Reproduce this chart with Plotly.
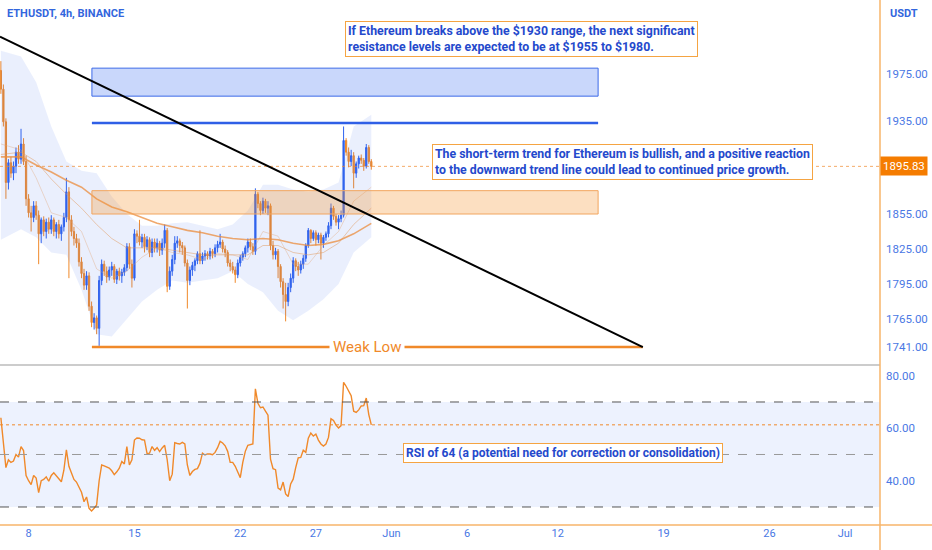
import pandas as pd
import plotly.graph_objects as go
from plotly.subplots import make_subplots

# ---- 4h candles, ETHUSDT ----
start = "2023-05-06 04:00"

opens = [1978, 1962, 1934, 1882, 1899, 1890, 1896, 1908, 1902, 1915,
         1900, 1868, 1856, 1852, 1862, 1854, 1838, 1850, 1840, 1848,
         1842, 1850, 1840, 1846, 1838, 1844, 1852, 1874, 1850, 1840,
         1834, 1830, 1814, 1804, 1794, 1802, 1776, 1762, 1766, 1757,
         1798, 1812, 1806, 1801, 1807, 1810, 1799, 1806, 1802, 1805,
         1809, 1827, 1812, 1800, 1838, 1836, 1831, 1835, 1827, 1833,
         1822, 1831, 1826, 1830, 1824, 1830, 1841, 1793, 1806, 1816,
         1830, 1832, 1828, 1826, 1813, 1798, 1807, 1811, 1815, 1821,
         1815, 1819, 1821, 1819, 1823, 1821, 1826, 1829, 1831, 1825,
         1822, 1813, 1810, 1807, 1803, 1813, 1818, 1821, 1826, 1831,
         1827, 1823, 1872, 1864, 1858, 1866, 1860, 1862, 1828, 1820,
         1823, 1810, 1797, 1786, 1780, 1792, 1800, 1815, 1810, 1807,
         1812, 1817, 1828, 1841, 1834, 1839, 1833, 1837, 1830, 1835,
         1838, 1845, 1860, 1853, 1848, 1851, 1854, 1918, 1908, 1900,
         1905, 1890, 1898, 1903, 1901, 1896, 1912, 1900]

highs = [1986, 1966, 1937, 1902, 1904, 1900, 1912, 1914, 1928, 1920,
         1905, 1872, 1862, 1866, 1866, 1858, 1852, 1853, 1851, 1852,
         1854, 1852, 1848, 1850, 1846, 1856, 1886, 1878, 1854, 1844,
         1838, 1834, 1818, 1808, 1806, 1805, 1780, 1770, 1768, 1802,
         1816, 1815, 1810, 1810, 1814, 1812, 1808, 1809, 1808, 1812,
         1830, 1830, 1816, 1842, 1841, 1850, 1838, 1838, 1836, 1835,
         1834, 1834, 1834, 1832, 1834, 1846, 1843, 1810, 1820, 1836,
         1836, 1834, 1831, 1828, 1816, 1810, 1814, 1817, 1823, 1841,
         1822, 1824, 1823, 1826, 1825, 1829, 1832, 1838, 1833, 1828,
         1824, 1816, 1814, 1810, 1816, 1820, 1823, 1828, 1834, 1834,
         1830, 1877, 1874, 1866, 1869, 1868, 1866, 1864, 1832, 1826,
         1825, 1812, 1800, 1796, 1796, 1804, 1818, 1817, 1814, 1815,
         1820, 1830, 1843, 1842, 1841, 1841, 1839, 1839, 1837, 1840,
         1848, 1864, 1862, 1855, 1854, 1858, 1930, 1920, 1912, 1910,
         1908, 1900, 1905, 1906, 1903, 1915, 1914, 1902]

lows = [1958, 1930, 1868, 1876, 1886, 1884, 1890, 1898, 1898, 1897,
        1862, 1852, 1840, 1848, 1850, 1812, 1830, 1836, 1834, 1838,
        1838, 1836, 1834, 1834, 1832, 1840, 1848, 1800, 1836, 1828,
        1826, 1810, 1800, 1790, 1790, 1772, 1758, 1756, 1752, 1742,
        1794, 1802, 1796, 1798, 1802, 1796, 1795, 1798, 1796, 1802,
        1806, 1808, 1792, 1798, 1830, 1828, 1826, 1822, 1824, 1818,
        1818, 1822, 1822, 1819, 1820, 1826, 1788, 1790, 1802, 1812,
        1826, 1822, 1820, 1810, 1774, 1794, 1802, 1806, 1812, 1812,
        1812, 1815, 1816, 1816, 1817, 1818, 1822, 1826, 1822, 1818,
        1810, 1806, 1804, 1796, 1800, 1810, 1815, 1818, 1822, 1824,
        1820, 1820, 1860, 1854, 1855, 1856, 1854, 1824, 1816, 1816,
        1800, 1792, 1774, 1763, 1776, 1788, 1796, 1806, 1802, 1804,
        1808, 1814, 1826, 1830, 1832, 1828, 1830, 1816, 1826, 1832,
        1835, 1842, 1850, 1845, 1842, 1848, 1852, 1905, 1895, 1896,
        1877, 1886, 1894, 1898, 1892, 1894, 1898, 1893]

closes = [1962, 1934, 1882, 1899, 1890, 1896, 1908, 1902, 1915, 1900,
          1868, 1856, 1852, 1862, 1854, 1838, 1850, 1840, 1848, 1842,
          1850, 1840, 1846, 1838, 1844, 1852, 1874, 1850, 1840, 1834,
          1830, 1814, 1804, 1794, 1802, 1776, 1762, 1766, 1757, 1798,
          1812, 1806, 1801, 1807, 1810, 1799, 1806, 1802, 1805, 1809,
          1827, 1812, 1800, 1838, 1836, 1831, 1835, 1827, 1833, 1822,
          1831, 1826, 1830, 1824, 1830, 1841, 1793, 1806, 1816, 1830,
          1832, 1828, 1826, 1813, 1798, 1807, 1811, 1815, 1821, 1815,
          1819, 1821, 1819, 1823, 1821, 1826, 1829, 1831, 1825, 1822,
          1813, 1810, 1807, 1803, 1813, 1818, 1821, 1826, 1831, 1827,
          1823, 1872, 1864, 1858, 1866, 1860, 1862, 1828, 1820, 1823,
          1810, 1797, 1786, 1780, 1792, 1800, 1815, 1810, 1807, 1812,
          1817, 1828, 1841, 1834, 1839, 1833, 1837, 1830, 1835, 1838,
          1845, 1860, 1853, 1848, 1851, 1854, 1918, 1908, 1900, 1905,
          1890, 1898, 1903, 1901, 1896, 1912, 1900, 1895.83]

rsi = [64, 53, 45, 48, 47, 47.5, 50, 49, 53, 51.5,
       42, 40, 38.5, 42, 41, 35.5, 40, 40.5, 41.5, 39.8,
       42, 43, 42, 41, 39.6, 44, 51.8, 45.5, 43, 40.5,
       39.5, 37.5, 35.6, 32, 33.8, 29.5, 28.5, 29.5, 30.8, 40,
       46, 45.7, 45.3, 44.8, 43.8, 42.3, 43.4, 44.8, 47.3, 46.4,
       53, 46, 48, 55.5, 56.3, 56.2, 55.6, 55.5, 50.4, 50.5,
       53, 51.6, 52.6, 51.1, 52.5, 53.5, 48, 40, 42.5, 54.5,
       54.2, 54, 54.6, 54, 46, 42, 43.5, 44.3, 44.6, 46.6,
       50.5, 49.8, 50.2, 50.2, 49.9, 50.8, 52.6, 55, 54.4, 53.3,
       51.2, 47, 47, 45.5, 43.3, 41.2, 47, 51.2, 53.5, 53.7,
       54, 75, 69.5, 67.8, 68.1, 66.5, 65, 48.2, 44.6, 44.2,
       37.2, 36.5, 39.5, 35, 34, 38.8, 40.6, 45, 48.7, 48.9,
       51.6, 50.8, 56.2, 58.2, 57, 57.8, 55.5, 54, 53.2, 54,
       56.5, 63.6, 63, 61.2, 60.1, 61, 77.5, 76, 74.2, 72.4,
       66.5, 66, 67, 68.5, 68.6, 71.5, 65.2, 61.3]

times = pd.date_range(start, periods=len(closes), freq="4h")

# ---- moving averages and band (sampled) ----
ma_times = ["2023-05-06 04:00"] + [f"2023-05-{d:02d} 12:00" for d in range(7, 30)] + ["2023-05-30 16:00"]
ma_slow = [1904, 1904, 1897, 1891, 1884, 1878, 1868, 1861, 1857, 1852, 1847, 1844, 1841,
           1839, 1836, 1834, 1833, 1834, 1833, 1830, 1828, 1829, 1832, 1838, 1847]
ma_mid = [1906, 1908, 1900, 1885, 1872, 1860, 1846, 1834, 1826, 1826, 1826, 1824, 1822,
          1820, 1820, 1820, 1820, 1828, 1828, 1822, 1820, 1822, 1830, 1846, 1860]
ma_fast = [1915, 1910, 1886, 1856, 1852, 1840, 1808, 1800, 1806, 1818, 1826, 1822, 1820,
           1816, 1821, 1820, 1816, 1840, 1836, 1812, 1812, 1828, 1840, 1866, 1878]
band_upper = [1995, 1990, 1968, 1930, 1900, 1892, 1890, 1870, 1855, 1845, 1845, 1847, 1848,
              1845, 1842, 1846, 1858, 1880, 1880, 1876, 1874, 1876, 1882, 1930, 1940]
band_lower = [1833, 1842, 1835, 1822, 1820, 1790, 1752, 1750, 1765, 1780, 1790, 1798, 1796,
              1798, 1800, 1806, 1795, 1788, 1772, 1764, 1772, 1782, 1795, 1822, 1835]

# ---- drawn levels ----
resist_box = (1956, 1980)
resist_line = 1933
support_box = (1855, 1875)
weak_low = 1741
trend_start = ("2023-05-06 02:30", 2007)
trend_end = ("2023-06-17 15:00", 1741)
zone_x = ("2023-05-12 04:30", "2023-06-14 16:00")
weak_low_end = "2023-06-17 15:00"

price_ticks = [1975, 1935, 1855, 1825, 1795, 1765, 1741]
rsi_ticks = [80, 60, 40]
date_ticks = ["2023-05-08", "2023-05-15", "2023-05-22", "2023-05-27", "2023-06-01",
              "2023-06-06", "2023-06-12", "2023-06-19", "2023-06-26", "2023-07-01"]
date_labels = ["8", "15", "22", "27", "Jun", "6", "12", "19", "26", "Jul"]

BLUE = "#2f62ee"
ORANGE = "#f0892a"
TXT = "#2449cc"
TICK = "#4a78e4"
XR = 880 / 932

fig = make_subplots(rows=2, cols=1, shared_xaxes=True, vertical_spacing=0)

# band
fig.add_trace(go.Scatter(x=ma_times, y=band_lower, mode="lines", line=dict(width=0),
                         hoverinfo="skip", showlegend=False), row=1, col=1)
fig.add_trace(go.Scatter(x=ma_times, y=band_upper, mode="lines", line=dict(width=0),
                         fill="tonexty", fillcolor="rgba(60,110,240,0.11)",
                         hoverinfo="skip", showlegend=False), row=1, col=1)

# moving averages
fig.add_trace(go.Scatter(x=ma_times, y=ma_slow, mode="lines",
                         line=dict(color="rgba(235,140,60,0.75)", width=1.6),
                         showlegend=False), row=1, col=1)
fig.add_trace(go.Scatter(x=ma_times, y=ma_mid, mode="lines",
                         line=dict(color="rgba(225,150,90,0.55)", width=0.9),
                         showlegend=False), row=1, col=1)
fig.add_trace(go.Scatter(x=ma_times, y=ma_fast, mode="lines",
                         line=dict(color="rgba(225,160,110,0.45)", width=0.8),
                         showlegend=False), row=1, col=1)

fig.add_trace(go.Candlestick(
    x=times, open=opens, high=highs, low=lows, close=closes,
    increasing=dict(line=dict(color=BLUE, width=1), fillcolor=BLUE),
    decreasing=dict(line=dict(color=ORANGE, width=1), fillcolor=ORANGE),
    whiskerwidth=0, showlegend=False), row=1, col=1)

fig.add_trace(go.Scatter(x=times, y=rsi, mode="lines",
                         line=dict(color=ORANGE, width=1.4), showlegend=False), row=2, col=1)

shapes = [
    # RSI zone and levels
    dict(type="rect", xref="paper", yref="y2", x0=0, x1=XR, y0=30, y1=70,
         fillcolor="rgba(60,110,240,0.09)", line=dict(width=0), layer="below"),
    dict(type="line", xref="paper", yref="y2", x0=0, x1=XR, y0=70, y1=70,
         line=dict(color="#555", width=1, dash="dash")),
    dict(type="line", xref="paper", yref="y2", x0=0, x1=XR, y0=50, y1=50,
         line=dict(color="#999", width=1, dash="dash")),
    dict(type="line", xref="paper", yref="y2", x0=0, x1=XR, y0=30, y1=30,
         line=dict(color="#555", width=1, dash="dash")),
    dict(type="line", xref="paper", yref="y2", x0=0, x1=XR, y0=rsi[-1], y1=rsi[-1],
         line=dict(color=ORANGE, width=1, dash="dot")),
    # last price
    dict(type="line", xref="paper", yref="y", x0=0, x1=XR, y0=closes[-1], y1=closes[-1],
         line=dict(color="rgba(240,137,42,0.7)", width=1, dash="dot")),
    # zones
    dict(type="rect", xref="x", yref="y", x0=zone_x[0], x1=zone_x[1],
         y0=resist_box[0], y1=resist_box[1],
         fillcolor="rgba(60,110,240,0.28)", line=dict(color="#3d6be8", width=1)),
    dict(type="line", xref="x", yref="y", x0=zone_x[0], x1=zone_x[1],
         y0=resist_line, y1=resist_line, line=dict(color="#2f5fe6", width=2.5)),
    dict(type="rect", xref="x", yref="y", x0=zone_x[0], x1=zone_x[1],
         y0=support_box[0], y1=support_box[1],
         fillcolor="rgba(245,150,50,0.3)", line=dict(color="#f2a55e", width=1)),
    dict(type="line", xref="x", yref="y", x0=zone_x[0], x1=weak_low_end,
         y0=weak_low, y1=weak_low, line=dict(color=ORANGE, width=2.5)),
    dict(type="line", xref="x", yref="y", x0=trend_start[0], x1=trend_end[0],
         y0=trend_start[1], y1=trend_end[1], line=dict(color="black", width=2)),
    # frame lines
    dict(type="line", xref="paper", yref="paper", x0=0, x1=XR,
         y0=1 - 365 / 550, y1=1 - 365 / 550, line=dict(color="#9a9a9a", width=1.2)),
    dict(type="line", xref="paper", yref="paper", x0=0, x1=1,
         y0=1 - 525 / 550, y1=1 - 525 / 550, line=dict(color="#f7b46a", width=1.5)),
    dict(type="line", xref="paper", yref="paper", x0=XR, x1=XR,
         y0=0, y1=1, line=dict(color="#f7b46a", width=1.5)),
]

box_font = dict(family="Roboto", size=12.3, color=TXT)
annotations = [
    dict(xref="paper", yref="paper", x=5 / 932, y=1 - 13 / 550, xanchor="left", yanchor="middle",
         text="<b>ETHUSDT, 4h, BINANCE</b>", showarrow=False,
         font=dict(family="Roboto", size=11, color="#3366dd")),
    dict(xref="paper", yref="paper", x=888 / 932, y=1 - 13 / 550, xanchor="left", yanchor="middle",
         text="<b>USDT</b>", showarrow=False, font=dict(family="Roboto", size=11, color="#3366dd")),
    dict(xref="paper", yref="y", x=XR, y=closes[-1], xanchor="left", yanchor="middle",
         text=f"{closes[-1]:.2f}", showarrow=False, bgcolor="#f57c00", borderpad=2,
         font=dict(family="Roboto", size=11.5, color="white")),
    dict(xref="paper", yref="paper", x=345 / 932, y=1 - 21 / 550, xanchor="left", yanchor="top",
         text="<b>If Ethereum breaks above the $1930 range, the next significant<br>"
              "resistance levels are expected to be at $1955 to $1980.</b>",
         align="left", showarrow=False, bgcolor="white", bordercolor="#f5a442",
         borderwidth=1, borderpad=2, font=box_font),
    dict(xref="paper", yref="paper", x=432 / 932, y=1 - 144 / 550, xanchor="left", yanchor="top",
         text="<b>The short-term trend for Ethereum is bullish, and a positive reaction<br>"
              "to the downward trend line could lead to continued price growth.</b>",
         align="left", showarrow=False, bgcolor="white", bordercolor="#f5a442",
         borderwidth=1, borderpad=2, font=box_font),
    dict(xref="paper", yref="paper", x=403 / 932, y=1 - 453 / 550, xanchor="left", yanchor="middle",
         text="<b>RSI of 64 (a potential need for correction or consolidation)</b>",
         align="left", showarrow=False, bgcolor="white", bordercolor="#f5a442",
         borderwidth=1, borderpad=2, font=dict(family="Roboto", size=12, color=TXT)),
    dict(xref="x", yref="y", x="2023-05-30 09:00", y=weak_low, xanchor="center", yanchor="middle",
         text="Weak Low", showarrow=False, bgcolor="white", borderpad=3,
         font=dict(family="Roboto", size=15, color=ORANGE)),
]

x_range = ["2023-05-06 02:37", "2023-07-03 07:27"]

fig.update_layout(
    width=932, height=550,
    margin=dict(l=0, r=0, t=0, b=0),
    paper_bgcolor="white", plot_bgcolor="white",
    showlegend=False,
    shapes=shapes, annotations=annotations,
    xaxis=dict(domain=[0, XR], range=x_range, rangeslider=dict(visible=False),
               showgrid=False, showticklabels=False, zeroline=False),
    xaxis2=dict(domain=[0, XR], range=x_range, showgrid=False, zeroline=False,
                tickvals=date_ticks, ticktext=date_labels, ticks="",
                tickfont=dict(family="Roboto", size=11, color=TICK)),
    yaxis=dict(domain=[1 - 365 / 550, 1], range=[1725.6, 2038.4], side="right",
               showgrid=False, zeroline=False, tickvals=price_ticks, tickformat=".2f",
               ticks="", ticklabelstandoff=5,
               tickfont=dict(family="Roboto", size=11.5, color=TICK)),
    yaxis2=dict(domain=[1 - 525 / 550, 1 - 366 / 550], range=[23.14, 83.71], side="right",
                showgrid=False, zeroline=False, tickvals=rsi_ticks, tickformat=".2f",
                ticks="", ticklabelstandoff=5,
                tickfont=dict(family="Roboto", size=11.5, color=TICK)),
)

# the page body has a default 8px margin; drop it so the figure fills the window
fig.write_html("out.html", config={"displayModeBar": False},
               post_script="document.body.style.margin='0px';")
